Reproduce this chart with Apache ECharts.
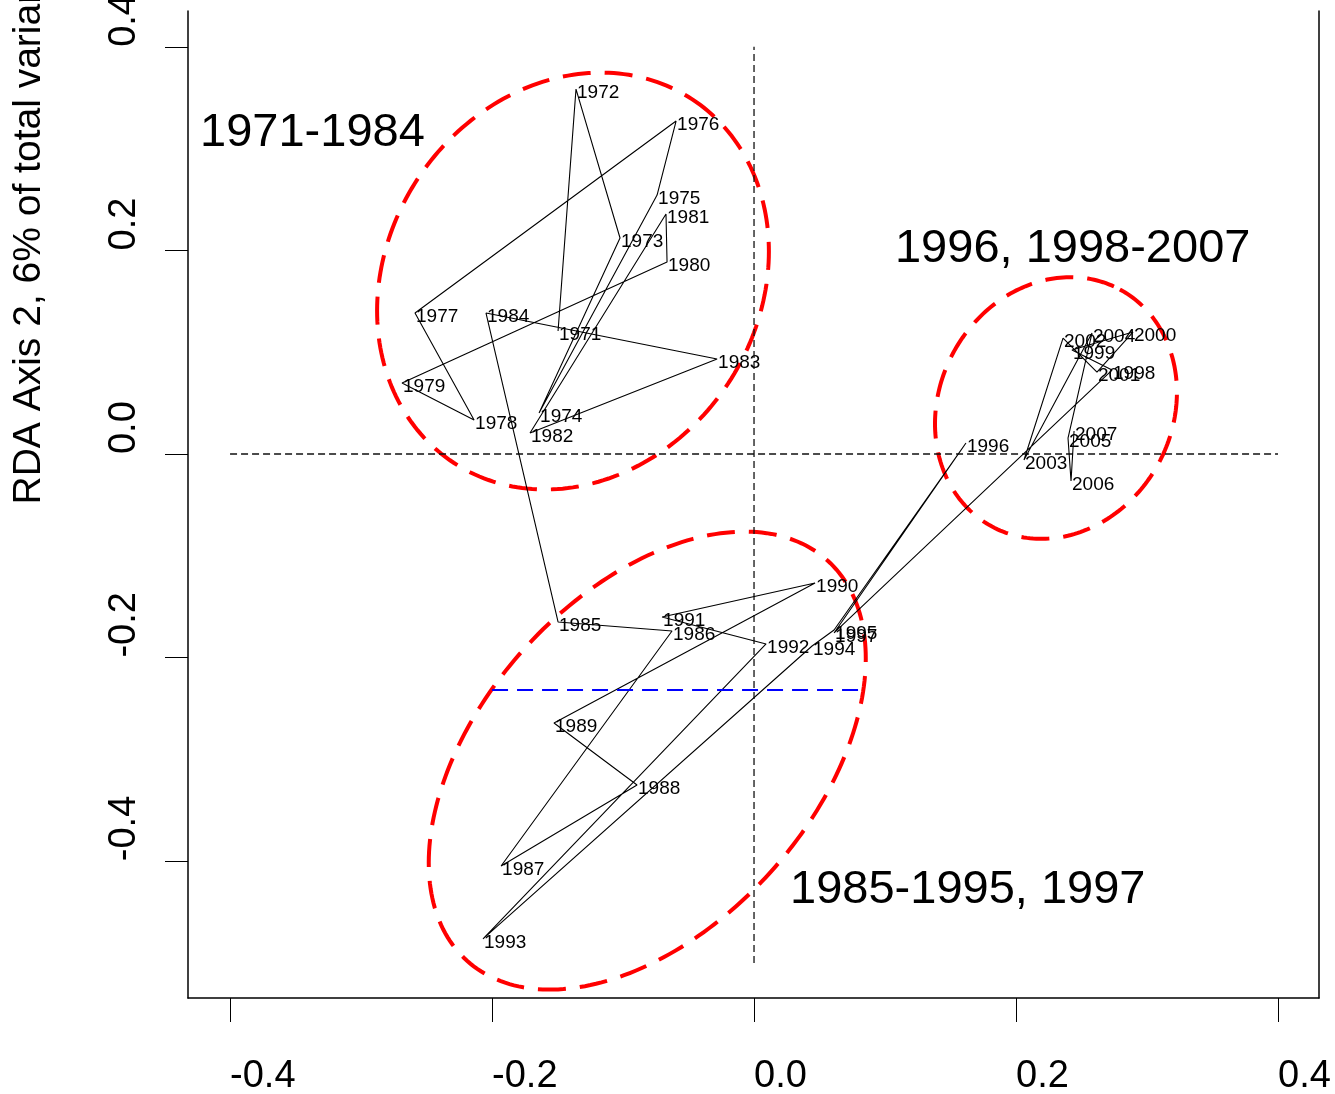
<!DOCTYPE html>
<html>
<head>
<meta charset="utf-8">
<script src="https://cdn.jsdelivr.net/npm/echarts@6/dist/echarts.min.js"></script>
<style>
html,body{margin:0;padding:0;background:#fff;}
#chart{width:1335px;height:1094px;}
</style>
</head>
<body>
<div id="chart"></div>
<script>
// ---- data ----
const years = ['1971','1972','1973','1974','1975','1976','1977','1978','1979','1980',
  '1981','1982','1983','1984','1985','1986','1987','1988','1989','1990',
  '1991','1992','1993','1994','1995','1996','1997','1998','1999','2000',
  '2001','2002','2003','2004','2005','2006','2007'];
const rdaAxis1 = [-0.1496,-0.1359,-0.1023,-0.1641,-0.0740,-0.0595,-0.2588,-0.2137,-0.2687,-0.0664,
  -0.0672,-0.1710,-0.0282,-0.2046,-0.1496,-0.0626,-0.1931,-0.0893,-0.1527,0.0466,
  -0.0702,0.0092,-0.2069,0.0443,0.0611,0.1618,0.0611,0.2733,0.2427,0.2893,
  0.2618,0.2359,0.2061,0.2580,0.2397,0.2420,0.2443];
const rdaAxis2 = [0.1208,0.3585,0.2122,0.0403,0.2544,0.3271,0.1385,0.0334,0.0697,0.1886,
  0.2358,0.0206,0.0933,0.1385,-0.1650,-0.1739,-0.4047,-0.3251,-0.2642,-0.1267,
  -0.1601,-0.1866,-0.4764,-0.1886,-0.1729,0.0108,-0.1758,0.0825,0.1022,0.1198,
  0.0805,0.1139,-0.0059,0.1188,0.0157,-0.0265,0.0226];

const xTickValues = [-0.4,-0.2,0,0.2,0.4];
const xTickLabels = ['-0.4','-0.2','0.0','0.2','0.4'];
const yTickValues = [-0.4,-0.2,0,0.2,0.4];
const yTickLabels = ['-0.4','-0.2','0.0','0.2','0.4'];

// group ellipses: centre and two conjugate semi-axis vectors (data units)
const ellipseCX = [-0.1382, 0.2305, -0.0815];
const ellipseCY = [0.1699, 0.0452, -0.3012];
const ellipseUX = [0.0911, 0.0488, 0.1376];
const ellipseUY = [0.1785, 0.1165, 0.1966];
const ellipseVX = [0.1186, 0.0784, 0.0943];
const ellipseVY = [-0.1003, -0.0543, -0.1093];

const groupNames = ['1971-1984', '1996, 1998-2007', '1985-1995, 1997'];
const groupLabelX = [-0.4229, 0.1076, 0.0275];
const groupLabelY = [0.3153, 0.2014, -0.4283];

const hRefX = [-0.4, 0.4];
const hRefY = [0, 0];
const vRefX = [0, 0];
const vRefY = [-0.5, 0.4];
const blueX = [-0.2, 0.083];
const blueY = [-0.2318, -0.2318];

// ---- chart ----
const FONT = 'Liberation Sans, Arial, Helvetica, sans-serif';
const pts = years.map((y, i) => [rdaAxis1[i], rdaAxis2[i], y]);
const chart = echarts.init(document.getElementById('chart'), null, {renderer: 'canvas'});

const option = {
  animation: false,
  backgroundColor: '#ffffff',
  grid: {left: 188, right: 16, top: 11, bottom: 96, containLabel: false, outerBoundsMode: 'none'},
  xAxis: {
    type: 'value', min: -0.4321, max: 0.4313,
    splitLine: {show: false},
    axisLine: {show: true, onZero: false, lineStyle: {color: '#000', width: 1.5}},
    axisTick: {show: true, inside: false, length: 24, lineStyle: {color: '#000', width: 1}, customValues: xTickValues},
    axisLabel: {
      customValues: xTickValues, margin: 60, align: 'left',
      fontFamily: FONT, fontSize: 38, color: '#000',
      formatter: v => xTickLabels[xTickValues.findIndex(t => Math.abs(t - v) < 1e-9)]
    }
  },
  yAxis: [{
    type: 'value', min: -0.5344, max: 0.4352, position: 'left',
    splitLine: {show: false},
    axisLine: {show: true, onZero: false, lineStyle: {color: '#000', width: 1.5}},
    axisTick: {show: true, inside: false, length: 23, lineStyle: {color: '#000', width: 1}, customValues: yTickValues},
    axisLabel: {
      customValues: yTickValues, rotate: 90, margin: 63, align: 'left', verticalAlign: 'middle',
      fontFamily: FONT, fontSize: 38, color: '#000',
      formatter: v => yTickLabels[yTickValues.findIndex(t => Math.abs(t - v) < 1e-9)]
    },
    name: 'RDA Axis 2, 6% of total variance',
    nameLocation: 'middle', nameRotate: 90, nameGap: 159,
    nameTextStyle: {fontFamily: FONT, fontSize: 39, color: '#000', align: 'left', verticalAlign: 'middle'}
  }, {
    type: 'value', min: -0.5344, max: 0.4352, position: 'right',
    splitLine: {show: false},
    axisLine: {show: true, onZero: false, lineStyle: {color: '#000', width: 1.5}},
    axisTick: {show: false}, axisLabel: {show: false}
  }],
  series: [
    {
      type: 'line', name: 'h0', data: hRefX.map((x, i) => [x, hRefY[i]]),
      symbol: 'none', silent: true,
      lineStyle: {color: '#111', width: 1.3, type: [7, 4]}
    },
    {
      type: 'line', name: 'v0', data: vRefX.map((x, i) => [x, vRefY[i]]),
      symbol: 'none', silent: true,
      lineStyle: {color: '#111', width: 1.3, type: [7, 4]}
    },
    {
      type: 'line', name: 'path', data: pts,
      symbol: 'none', silent: true,
      lineStyle: {color: '#000', width: 1.1}
    },
    {
      type: 'scatter', name: 'years', data: pts, silent: true,
      symbol: 'circle', symbolSize: 0, itemStyle: {color: '#000', opacity: 1},
      label: {
        show: true, position: 'right', distance: 1, offset: [0, 4],
        formatter: p => p.data[2], fontFamily: FONT, fontSize: 19, color: '#000', opacity: 1,
        textBorderWidth: 0
      }
    },
    {
      type: 'line', name: 'blue', data: blueX.map((x, i) => [x, blueY[i]]),
      symbol: 'none', silent: true,
      lineStyle: {color: '#0000ff', width: 2, type: [16, 9]}
    },
    {
      type: 'custom', name: 'ellipses', silent: true,
      data: ellipseCX.map((x, i) => [x, ellipseCY[i]]),
      renderItem: (params, api) => {
        const i = params.dataIndex;
        const points = [];
        const n = 240;
        for (let k = 0; k <= n; k++) {
          const t = 2 * Math.PI * k / n;
          points.push(api.coord([
            ellipseCX[i] + ellipseUX[i] * Math.cos(t) + ellipseVX[i] * Math.sin(t),
            ellipseCY[i] + ellipseUY[i] * Math.cos(t) + ellipseVY[i] * Math.sin(t)
          ]));
        }
        return {
          type: 'polyline',
          shape: {points: points},
          style: {fill: null, stroke: '#ff0000', lineWidth: 4, lineDash: [28, 14]}
        };
      }
    },
    {
      type: 'scatter', name: 'groups', silent: true,
      data: groupNames.map((g, i) => [groupLabelX[i], groupLabelY[i], g]),
      symbol: 'circle', symbolSize: 0, itemStyle: {color: '#000', opacity: 1},
      label: {
        show: true, position: 'right', distance: 0,
        formatter: p => p.data[2], fontFamily: FONT, fontSize: 47, color: '#000', opacity: 1,
        textBorderWidth: 0
      }
    }
  ]
};
chart.setOption(option);
</script>
</body>
</html>
